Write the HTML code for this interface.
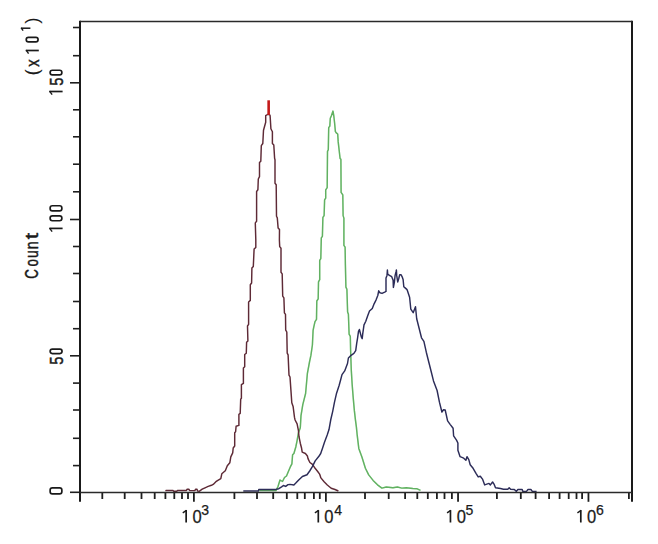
<!DOCTYPE html>
<html><head><meta charset="utf-8"><style>
html,body{margin:0;padding:0;background:#fff;overflow:hidden;}
svg{display:block;}
text{font-family:"Liberation Sans",sans-serif;fill:#1a1a1a;}
.tk{stroke:#1e1e1e;stroke-width:1.8;}
.tkh{stroke:#1e1e1e;stroke-width:1.6;}
.axh{stroke:#2a2a2a;stroke-width:1.6;}
.ax{stroke:#1a1a1a;stroke-width:2;}
.xl{font-size:18px;}
.sup{font-size:14px;}
.yl{font-size:19.5px;}
.c{fill:none;stroke-width:1.45;stroke-linejoin:round;}
.b{stroke:#1a1a1a;stroke-width:0.5;}
.h{stroke:#1a1a1a;stroke-width:0.25;}
.c0{stroke:#1a1a1a;stroke-width:0.15;}
</style></head><body>
<svg width="658" height="544" viewBox="0 0 658 544">
<rect width="658" height="544" fill="#fff"/>
<polyline class="c" stroke="#d4f6d4" stroke-width="4" points="259.3,490.6 276.0,490.6 278.0,486.5 280.0,480.0 282.5,481.5 284.5,477.5 286.5,476.0 290.6,466.3 291.9,463.8 292.6,454.7 293.9,453.5 295.8,447.0 297.1,440.6 298.4,432.9 300.3,427.7 301.0,415.6 302.8,404.6 305.6,393.5 307.4,373.3 309.5,362.0 310.9,355.4 312.4,345.0 313.1,330.4 313.8,326.8 315.0,321.6 316.5,319.4 316.8,301.0 318.2,298.8 318.5,281.9 319.7,279.7 319.7,260.3 320.8,258.6 321.3,237.9 322.4,236.3 322.9,217.3 324.1,215.6 324.6,199.9 325.7,198.2 325.7,189.9 327.2,187.7 327.5,151.4 328.3,149.8 328.7,127.7 329.8,126.1 330.3,118.2 331.4,115.8 333.0,111.1 333.8,115.8 334.6,123.0 335.4,131.6 336.6,133.2 337.7,134.0 338.2,141.9 340.1,158.5 340.9,159.3 341.1,192.4 342.8,194.9 343.1,215.6 343.9,218.1 343.9,245.4 345.1,247.1 345.4,265.0 345.9,287.1 346.9,289.3 347.6,312.1 348.4,314.3 349.1,334.1 350.3,336.3 350.6,350.0 351.3,370.4 352.2,385.0 353.2,397.6 354.4,410.9 355.4,419.7 356.4,427.1 357.2,435.2 358.8,448.4 362.0,457.2 365.4,468.2 368.7,474.9 373.1,480.4 377.5,484.8 381.9,488.1 386.3,487.0 392.9,487.7 397.4,487.0 401.8,488.1 406.2,487.7 412.8,488.5 417.2,488.8 420.5,490.3"/>
<polyline class="c" stroke="#62b062" stroke-width="1.35" points="259.3,490.6 276.0,490.6 278.0,486.5 280.0,480.0 282.5,481.5 284.5,477.5 286.5,476.0 290.6,466.3 291.9,463.8 292.6,454.7 293.9,453.5 295.8,447.0 297.1,440.6 298.4,432.9 300.3,427.7 301.0,415.6 302.8,404.6 305.6,393.5 307.4,373.3 309.5,362.0 310.9,355.4 312.4,345.0 313.1,330.4 313.8,326.8 315.0,321.6 316.5,319.4 316.8,301.0 318.2,298.8 318.5,281.9 319.7,279.7 319.7,260.3 320.8,258.6 321.3,237.9 322.4,236.3 322.9,217.3 324.1,215.6 324.6,199.9 325.7,198.2 325.7,189.9 327.2,187.7 327.5,151.4 328.3,149.8 328.7,127.7 329.8,126.1 330.3,118.2 331.4,115.8 333.0,111.1 333.8,115.8 334.6,123.0 335.4,131.6 336.6,133.2 337.7,134.0 338.2,141.9 340.1,158.5 340.9,159.3 341.1,192.4 342.8,194.9 343.1,215.6 343.9,218.1 343.9,245.4 345.1,247.1 345.4,265.0 345.9,287.1 346.9,289.3 347.6,312.1 348.4,314.3 349.1,334.1 350.3,336.3 350.6,350.0 351.3,370.4 352.2,385.0 353.2,397.6 354.4,410.9 355.4,419.7 356.4,427.1 357.2,435.2 358.8,448.4 362.0,457.2 365.4,468.2 368.7,474.9 373.1,480.4 377.5,484.8 381.9,488.1 386.3,487.0 392.9,487.7 397.4,487.0 401.8,488.1 406.2,487.7 412.8,488.5 417.2,488.8 420.5,490.3"/>
<polyline class="c" stroke="#5e2a36" points="166.0,491.3 166.0,490.4 173.0,490.4 173.5,491.2 177.0,491.2 177.5,490.4 186.5,490.4 187.0,489.3 189.0,489.3 189.5,490.6 195.0,490.6 195.5,489.3 197.0,489.3 197.5,491.0 199.5,491.2 202.2,489.2 205.0,487.8 208.2,486.4 211.4,485.3 213.2,484.4 215.9,481.7 218.3,480.2 220.8,478.7 221.8,473.8 225.3,470.8 227.3,465.8 229.8,462.8 230.8,456.9 232.7,452.9 233.2,448.0 234.7,446.0 234.7,432.7 235.6,431.8 236.1,426.3 238.9,425.4 238.9,414.3 240.2,413.4 240.7,399.1 241.4,398.2 241.4,384.7 243.4,383.4 243.4,368.0 244.7,366.7 244.7,354.5 246.3,353.2 246.6,342.2 247.9,340.9 247.5,326.0 248.6,324.4 248.6,302.0 250.3,300.4 250.3,284.7 251.6,283.0 251.9,268.1 253.3,266.5 254.1,249.1 255.8,247.4 255.8,240.0 255.3,222.9 256.6,221.3 256.6,191.5 257.9,189.8 258.3,179.0 259.5,176.6 259.5,162.6 260.8,161.2 261.3,145.7 262.8,143.5 263.5,130.3 265.7,122.2 265.7,115.6 267.5,114.5 269.5,114.5 270.1,115.6 270.9,128.8 272.4,131.8 272.4,143.5 273.8,145.0 274.6,158.2 275.0,159.7 275.0,183.2 276.2,184.8 276.5,216.3 277.3,217.9 278.1,227.9 279.5,229.5 279.4,240.0 279.7,246.6 281.0,248.3 281.0,272.3 282.2,273.9 282.7,296.2 283.9,297.9 284.4,312.8 285.5,314.4 285.7,330.1 286.8,332.0 287.2,353.1 288.1,354.9 289.0,375.1 290.0,377.0 290.9,389.9 291.8,402.7 293.1,406.4 294.5,417.4 295.1,420.0 297.1,423.9 298.4,430.3 299.0,436.7 300.3,443.2 301.6,448.3 302.2,452.2 305.4,453.5 307.4,456.0 308.0,458.6 309.9,462.5 312.5,464.4 315.1,468.3 317.7,471.5 319.6,474.1 320.9,477.9 324.1,481.8 327.3,485.0 331.2,488.2 335.0,489.5 338.4,491.0"/>
<polyline class="c" stroke="#2c2c58" points="243.3,491.0 258.4,491.0 258.8,489.4 276.0,489.4 278.8,488.7 281.6,486.9 283.4,485.5 285.7,486.4 288.0,484.6 290.0,484.4 293.9,485.0 295.8,483.1 298.7,480.0 302.4,476.5 307.0,474.7 309.7,471.0 312.5,466.4 315.2,460.9 318.9,456.3 320.7,453.5 322.6,448.0 324.4,442.5 327.2,435.1 329.0,429.6 330.8,419.5 332.7,411.3 334.5,402.1 336.4,393.8 339.1,385.5 340.6,380.0 342.0,374.6 344.7,370.9 347.5,363.5 348.4,358.0 351.1,355.3 353.9,353.4 355.7,350.7 356.7,343.3 357.6,337.8 358.5,331.4 359.4,329.5 361.3,336.9 362.2,338.7 362.7,334.1 364.0,324.9 365.8,321.3 367.7,315.7 369.5,311.1 372.3,308.4 374.1,303.8 376.0,300.1 377.8,295.5 378.7,290.8 380.0,292.8 382.0,293.4 384.7,292.1 386.0,291.4 386.0,278.0 387.0,275.4 387.4,270.0 387.7,274.0 389.4,275.4 391.7,276.7 393.1,280.1 393.4,287.4 394.4,282.0 395.1,275.4 396.0,272.0 396.4,270.0 396.7,275.4 397.7,282.0 398.7,278.7 399.7,274.7 401.1,274.7 402.4,277.4 403.1,279.4 403.8,286.7 405.4,288.1 406.8,289.4 407.2,290.0 409.6,297.2 410.8,309.1 413.2,312.7 415.5,306.7 416.7,318.7 419.1,328.3 421.5,337.8 423.9,341.4 426.3,352.2 428.7,361.8 431.1,371.3 433.5,380.9 437.1,390.5 439.5,402.4 441.9,412.0 443.5,409.8 445.2,410.0 447.6,420.9 450.3,424.6 453.1,428.2 453.6,435.8 456.5,440.1 457.9,443.0 457.9,450.2 460.1,456.7 463.7,458.2 465.9,460.3 467.0,456.7 468.8,459.6 470.2,464.7 473.1,468.3 476.0,473.3 478.2,476.9 480.3,476.2 482.5,479.1 484.7,484.9 486.8,484.1 489.0,483.4 490.4,484.9 492.6,482.0 494.0,484.1 495.5,487.8 500.5,488.5 503.4,489.2 507.8,489.2 509.2,487.8 510.6,489.2 514.3,489.5 516.4,491.4 517.9,489.5 522.2,489.5 522.9,491.4 526.5,491.4 528.0,489.5 530.9,489.5 532.3,491.4 536.6,491.4"/>
<line x1="268.65" y1="100.3" x2="268.65" y2="115" stroke="#c41a1a" stroke-width="2.6"/>
<line x1="70" y1="492.30" x2="80.0" y2="492.30" class="tkh"/>
<line x1="73" y1="465.60" x2="80.0" y2="465.60" class="tkh"/>
<line x1="73" y1="438.30" x2="80.0" y2="438.30" class="tkh"/>
<line x1="73" y1="410.00" x2="80.0" y2="410.00" class="tkh"/>
<line x1="73" y1="383.10" x2="80.0" y2="383.10" class="tkh"/>
<line x1="70" y1="355.80" x2="80.0" y2="355.80" class="tkh"/>
<line x1="73" y1="328.70" x2="80.0" y2="328.70" class="tkh"/>
<line x1="73" y1="301.50" x2="80.0" y2="301.50" class="tkh"/>
<line x1="73" y1="273.50" x2="80.0" y2="273.50" class="tkh"/>
<line x1="73" y1="246.50" x2="80.0" y2="246.50" class="tkh"/>
<line x1="70" y1="219.50" x2="80.0" y2="219.50" class="tkh"/>
<line x1="73" y1="191.80" x2="80.0" y2="191.80" class="tkh"/>
<line x1="73" y1="164.20" x2="80.0" y2="164.20" class="tkh"/>
<line x1="73" y1="136.80" x2="80.0" y2="136.80" class="tkh"/>
<line x1="73" y1="109.80" x2="80.0" y2="109.80" class="tkh"/>
<line x1="70" y1="82.80" x2="80.0" y2="82.80" class="tkh"/>
<line x1="73" y1="55.70" x2="80.0" y2="55.70" class="tkh"/>
<line x1="73" y1="27.50" x2="80.0" y2="27.50" class="tkh"/>
<line x1="193.90" y1="492.5" x2="193.90" y2="501.8" class="tk"/>
<line x1="325.90" y1="492.5" x2="325.90" y2="501.8" class="tk"/>
<line x1="458.05" y1="492.5" x2="458.05" y2="501.8" class="tk"/>
<line x1="588.45" y1="492.5" x2="588.45" y2="501.8" class="tk"/>
<line x1="102.30" y1="492.5" x2="102.30" y2="499.0" class="tk"/>
<line x1="124.70" y1="492.5" x2="124.70" y2="499.0" class="tk"/>
<line x1="141.50" y1="492.5" x2="141.50" y2="499.0" class="tk"/>
<line x1="154.70" y1="492.5" x2="154.70" y2="499.0" class="tk"/>
<line x1="165.40" y1="492.5" x2="165.40" y2="499.0" class="tk"/>
<line x1="174.30" y1="492.5" x2="174.30" y2="499.0" class="tk"/>
<line x1="182.00" y1="492.5" x2="182.00" y2="499.0" class="tk"/>
<line x1="188.00" y1="492.5" x2="188.00" y2="499.0" class="tk"/>
<line x1="234.40" y1="492.5" x2="234.40" y2="499.0" class="tk"/>
<line x1="257.00" y1="492.5" x2="257.00" y2="499.0" class="tk"/>
<line x1="273.20" y1="492.5" x2="273.20" y2="499.0" class="tk"/>
<line x1="286.80" y1="492.5" x2="286.80" y2="499.0" class="tk"/>
<line x1="297.30" y1="492.5" x2="297.30" y2="499.0" class="tk"/>
<line x1="304.80" y1="492.5" x2="304.80" y2="499.0" class="tk"/>
<line x1="313.90" y1="492.5" x2="313.90" y2="499.0" class="tk"/>
<line x1="319.80" y1="492.5" x2="319.80" y2="499.0" class="tk"/>
<line x1="365.00" y1="492.5" x2="365.00" y2="499.0" class="tk"/>
<line x1="388.70" y1="492.5" x2="388.70" y2="499.0" class="tk"/>
<line x1="405.10" y1="492.5" x2="405.10" y2="499.0" class="tk"/>
<line x1="417.30" y1="492.5" x2="417.30" y2="499.0" class="tk"/>
<line x1="427.80" y1="492.5" x2="427.80" y2="499.0" class="tk"/>
<line x1="436.90" y1="492.5" x2="436.90" y2="499.0" class="tk"/>
<line x1="444.50" y1="492.5" x2="444.50" y2="499.0" class="tk"/>
<line x1="451.90" y1="492.5" x2="451.90" y2="499.0" class="tk"/>
<line x1="496.90" y1="492.5" x2="496.90" y2="499.0" class="tk"/>
<line x1="520.80" y1="492.5" x2="520.80" y2="499.0" class="tk"/>
<line x1="535.60" y1="492.5" x2="535.60" y2="499.0" class="tk"/>
<line x1="549.10" y1="492.5" x2="549.10" y2="499.0" class="tk"/>
<line x1="559.60" y1="492.5" x2="559.60" y2="499.0" class="tk"/>
<line x1="568.70" y1="492.5" x2="568.70" y2="499.0" class="tk"/>
<line x1="576.50" y1="492.5" x2="576.50" y2="499.0" class="tk"/>
<line x1="582.10" y1="492.5" x2="582.10" y2="499.0" class="tk"/>
<line x1="628.90" y1="492.5" x2="628.90" y2="499.0" class="tk"/>
<line x1="80.0" y1="20.7" x2="80.0" y2="501.8" class="ax"/>
<line x1="632.0" y1="20.7" x2="632.0" y2="501.8" class="ax"/>
<line x1="80.0" y1="492.5" x2="632.0" y2="492.5" class="axh"/>
<line x1="80.0" y1="21.5" x2="632.0" y2="21.5" class="axh"/>
<path d="M186.15,522.50V510.10" stroke="#1a1a1a" stroke-width="1.7" fill="none"/><path d="M186.45,510.40L182.75,512.90" stroke="#1a1a1a" stroke-width="1.4" fill="none"/>
<text transform="translate(197.05,522.50) scale(0.92,1)" x="-5.01" y="0" font-size="18" class="h">0</text>
<text transform="translate(205.15,515.40) scale(1.0,1)" x="-3.85" y="0" font-size="14" class="h">3</text>
<path d="M318.30,522.50V510.10" stroke="#1a1a1a" stroke-width="1.7" fill="none"/><path d="M318.60,510.40L314.90,512.90" stroke="#1a1a1a" stroke-width="1.4" fill="none"/>
<text transform="translate(328.75,522.50) scale(0.92,1)" x="-5.01" y="0" font-size="18" class="h">0</text>
<text transform="translate(338.00,515.40) scale(1.0,1)" x="-3.85" y="0" font-size="14" class="h">4</text>
<path d="M450.45,522.50V510.10" stroke="#1a1a1a" stroke-width="1.7" fill="none"/><path d="M450.75,510.40L447.05,512.90" stroke="#1a1a1a" stroke-width="1.4" fill="none"/>
<text transform="translate(461.25,522.50) scale(0.92,1)" x="-5.01" y="0" font-size="18" class="h">0</text>
<text transform="translate(469.25,515.40) scale(1.0,1)" x="-3.88" y="0" font-size="14" class="h">5</text>
<path d="M580.80,522.50V510.10" stroke="#1a1a1a" stroke-width="1.7" fill="none"/><path d="M581.10,510.40L577.40,512.90" stroke="#1a1a1a" stroke-width="1.4" fill="none"/>
<text transform="translate(591.55,522.50) scale(0.92,1)" x="-5.01" y="0" font-size="18" class="h">0</text>
<text transform="translate(600.05,515.40) scale(1.0,1)" x="-3.94" y="0" font-size="14" class="h">6</text>
<path d="M62.60,91.50H49.30" stroke="#1a1a1a" stroke-width="1.7" fill="none"/><path d="M49.60,91.20L52.10,94.70" stroke="#1a1a1a" stroke-width="1.4" fill="none"/>
<text transform="translate(62.60,81.55) rotate(-90) scale(0.78,1)" x="-5.26" y="0" font-size="19" class="b">5</text>
<rect x="50.15" y="70.25" width="11.70" height="4.70" rx="2.2" fill="none" stroke="#1a1a1a" stroke-width="1.7"/>
<path d="M62.60,228.40H49.30" stroke="#1a1a1a" stroke-width="1.7" fill="none"/><path d="M49.60,228.10L52.10,231.60" stroke="#1a1a1a" stroke-width="1.4" fill="none"/>
<rect x="50.15" y="215.85" width="11.70" height="4.90" rx="2.2" fill="none" stroke="#1a1a1a" stroke-width="1.7"/>
<rect x="50.15" y="205.75" width="11.70" height="5.20" rx="2.2" fill="none" stroke="#1a1a1a" stroke-width="1.7"/>
<text transform="translate(62.60,360.65) rotate(-90) scale(0.78,1)" x="-5.26" y="0" font-size="19" class="b">5</text>
<rect x="50.15" y="349.05" width="11.90" height="4.50" rx="2.2" fill="none" stroke="#1a1a1a" stroke-width="1.7"/>
<rect x="50.15" y="487.85" width="11.70" height="6.10" rx="2.2" fill="none" stroke="#1a1a1a" stroke-width="1.7"/>
<text transform="translate(38.00,273.90) rotate(-90) scale(0.72,1)" x="-6.80" y="0" font-size="18.5" class="b">C</text>
<text transform="translate(38.00,262.90) rotate(-90) scale(0.72,1)" x="-5.14" y="0" font-size="18.5" class="b">o</text>
<text transform="translate(38.00,254.10) rotate(-90) scale(0.76,1)" x="-5.13" y="0" font-size="18.5" class="b">u</text>
<text transform="translate(38.00,245.30) rotate(-90) scale(0.76,1)" x="-5.16" y="0" font-size="18.5" class="b">n</text>
<text transform="translate(38.00,235.90) rotate(-90) scale(1.25,1)" x="-2.64" y="0" font-size="18.5" class="b">t</text>
<text transform="translate(38.10,71.95) rotate(-90) scale(0.95,1)" x="-3.60" y="0" font-size="18.5" class="c0">(</text>
<text transform="translate(38.80,63.15) rotate(-90) scale(0.8,1)" x="-4.63" y="0" font-size="18.5" class="b">x</text>
<path d="M38.80,50.50H25.80" stroke="#1a1a1a" stroke-width="1.7" fill="none"/><path d="M26.10,50.20L28.60,53.70" stroke="#1a1a1a" stroke-width="1.4" fill="none"/>
<rect x="26.25" y="37.35" width="11.80" height="4.50" rx="2.2" fill="none" stroke="#1a1a1a" stroke-width="1.7"/>
<path d="M30.40,28.20H20.90" stroke="#1a1a1a" stroke-width="1.5" fill="none"/><path d="M21.20,27.90L23.10,30.60" stroke="#1a1a1a" stroke-width="1.4" fill="none"/>
<text transform="translate(38.10,21.05) rotate(-90) scale(0.95,1)" x="-2.56" y="0" font-size="18.5" class="c0">)</text>
</svg>
</body></html>
